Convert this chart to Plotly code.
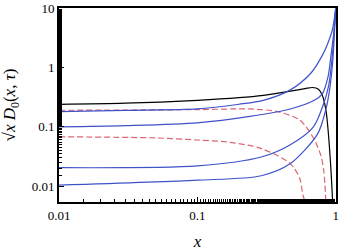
import plotly.graph_objects as go

# Black solid curve
black_x = [0.01, 0.03, 0.1, 0.2, 0.3, 0.47, 0.6, 0.68, 0.75, 0.8, 0.85, 0.88, 0.92, 0.95]
black_y = [0.24, 0.25, 0.28, 0.31, 0.34, 0.40, 0.44, 0.46, 0.43, 0.34, 0.19, 0.09, 0.022, 0.0055]

# Blue solid curves
blue1_x = [0.01, 0.03, 0.1, 0.2, 0.3, 0.47, 0.66, 0.8, 0.9, 0.95, 0.98, 1.0]
blue1_y = [0.18, 0.19, 0.2, 0.24, 0.28, 0.42, 0.8, 1.6, 3.0, 4.5, 7.0, 10.0]
blue2_x = [0.01, 0.03, 0.1, 0.24, 0.47, 0.7, 0.8, 0.88, 0.93, 0.97, 1.0]
blue2_y = [0.1, 0.105, 0.117, 0.15, 0.2, 0.28, 0.36, 0.7, 1.8, 4.0, 10.0]
blue3_x = [0.01, 0.1, 0.29, 0.47, 0.69, 0.82, 0.89, 0.95, 0.98, 1.0]
blue3_y = [0.0205, 0.022, 0.031, 0.05, 0.1, 0.25, 0.5, 1.8, 5.0, 10.0]
blue4_x = [0.01, 0.1, 0.29, 0.47, 0.74, 0.85, 0.9, 0.95, 0.98, 1.0]
blue4_y = [0.0104, 0.0126, 0.015, 0.024, 0.076, 0.2, 0.4, 1.2, 4.0, 10.0]

# Red dashed curves
red1_x = [0.01, 0.1, 0.24, 0.38, 0.55, 0.69, 0.78, 0.82, 0.85]
red1_y = [0.19, 0.195, 0.2, 0.18, 0.13, 0.065, 0.033, 0.018, 0.005]
red2_x = [0.01, 0.05, 0.1, 0.17, 0.29, 0.47, 0.55, 0.58, 0.61]
red2_y = [0.068, 0.065, 0.06, 0.055, 0.043, 0.024, 0.0135, 0.007, 0.005]

BLUE = "#3f52c8"
RED = "#dd6670"

fig = go.Figure()

def add(x, y, color, dash="solid"):
    fig.add_trace(go.Scatter(x=x, y=y, mode="lines",
                             line=dict(color=color, width=1.2, dash=dash, shape="spline", smoothing=0.8),
                             showlegend=False, hoverinfo="skip"))

add(red1_x, red1_y, RED, "6px,3px")
add(red2_x, red2_y, RED, "6px,3px")
add(black_x, black_y, "black")
add(blue1_x, blue1_y, BLUE)
add(blue2_x, blue2_y, BLUE)
add(blue3_x, blue3_y, BLUE)
add(blue4_x, blue4_y, BLUE)

serif = "Liberation Serif, DejaVu Serif, serif"

fig.update_layout(
    width=346, height=251,
    margin=dict(l=59, r=10, t=8, b=49),
    paper_bgcolor="white", plot_bgcolor="white",
    font=dict(family=serif, size=13, color="black"),
    xaxis=dict(type="log", range=[-2, 0.002], tickvals=[0.01, 0.1, 1], ticktext=["0.01", "0.1", "1"],
               ticks="inside", ticklen=5, tickcolor="black", showline=True, linecolor="black",
               linewidth=2, mirror=True, showgrid=False, zeroline=False, automargin=False,
               tickfont=dict(family=serif, size=13),
               minor=dict(ticks="inside", ticklen=3, tickcolor="black", showgrid=False),
               title=dict(text="<i>x</i>", font=dict(family=serif, size=17))),
    yaxis=dict(type="log", range=[-2.267, 1.003], tickvals=[0.01, 0.1, 1, 10], ticktext=["0.01", "0.1", "1", "10"],
               ticks="inside", ticklen=5, tickcolor="black", showline=True, linecolor="black",
               linewidth=2, mirror=True, showgrid=False, zeroline=False, automargin=False,
               tickfont=dict(family=serif, size=13),
               minor=dict(ticks="inside", ticklen=3, tickcolor="black", showgrid=False),
               title=dict(text="√<i>x</i> <i>D</i><sub>0</sub>(<i>x</i>, <i>τ</i>)",
                          font=dict(family=serif, size=17))),
)

fig.write_html("out.html", config={"displayModeBar": False},
               post_script="document.body.style.margin='0';document.body.style.overflow='hidden';")
